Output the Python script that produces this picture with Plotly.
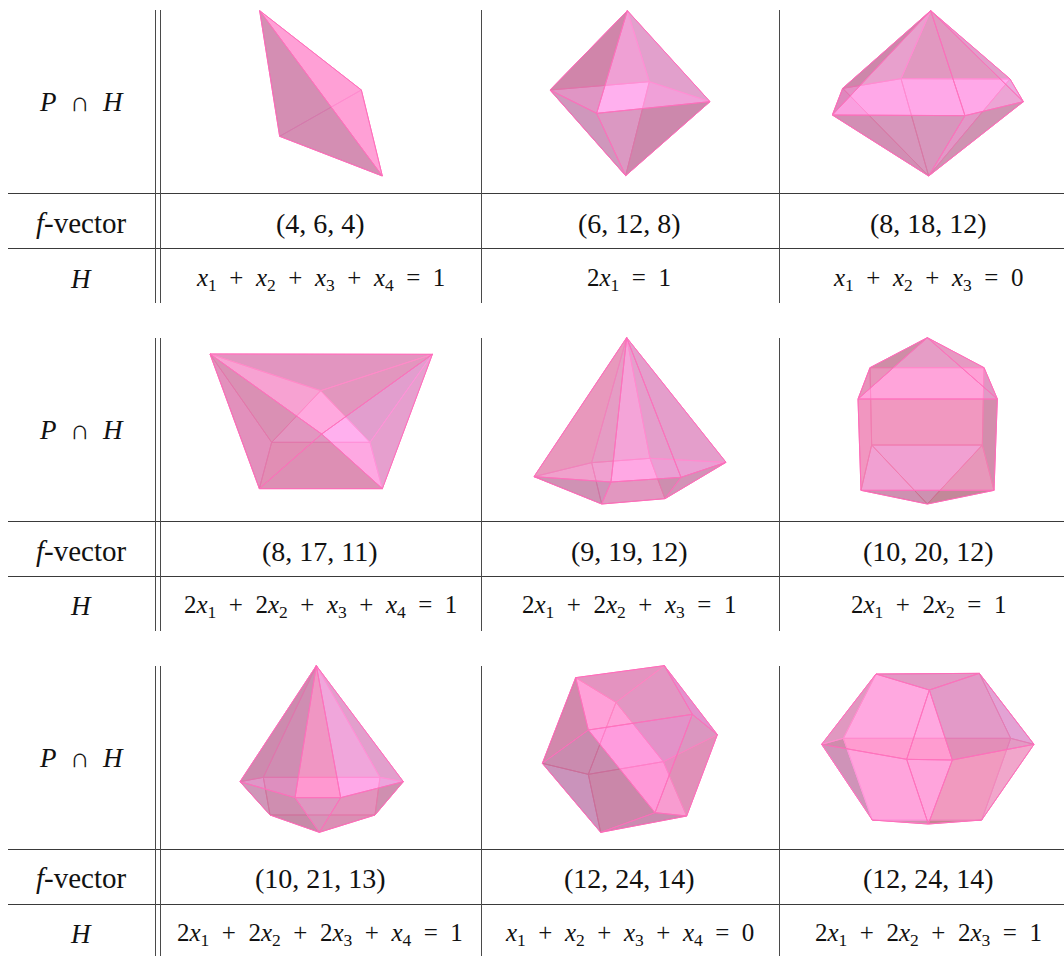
import plotly.graph_objects as go

# ---------- table text ----------
ROW_LABELS = ["<i>P</i>\u2002∩\u2002<i>H</i>", "<i>f</i>-vector", "<i>H</i>"]
F_VECTORS = [
    ["(4, 6, 4)", "(6, 12, 8)", "(8, 18, 12)"],
    ["(8, 17, 11)", "(9, 19, 12)", "(10, 20, 12)"],
    ["(10, 21, 13)", "(12, 24, 14)", "(12, 24, 14)"],
]
X1, X2, X3, X4 = ["<i>x</i><sub>%d</sub>" % k for k in (1, 2, 3, 4)]
PLUS = "\u2002+\u2002"
EQ = "\u2002=\u2002"
HYPERPLANES = [
    [f"{X1}{PLUS}{X2}{PLUS}{X3}{PLUS}{X4}{EQ}1", f"2{X1}{EQ}1", f"{X1}{PLUS}{X2}{PLUS}{X3}{EQ}0"],
    [f"2{X1}{PLUS}2{X2}{PLUS}{X3}{PLUS}{X4}{EQ}1", f"2{X1}{PLUS}2{X2}{PLUS}{X3}{EQ}1", f"2{X1}{PLUS}2{X2}{EQ}1"],
    [f"2{X1}{PLUS}2{X2}{PLUS}2{X3}{PLUS}{X4}{EQ}1", f"{X1}{PLUS}{X2}{PLUS}{X3}{PLUS}{X4}{EQ}0", f"2{X1}{PLUS}2{X2}{PLUS}2{X3}{EQ}1"],
]

# ---------- polytopes: vertices, faces, face tints ----------
ORIGIN_1 = (240, 0)
VERTS_1 = {"A": (59, 32), "B": (364, 270), "C": (427, 528), "D": (119, 409)}
BACK_1 = {"ABD": (255, 150, 200), "BCD": (255, 150, 200)}
FRONT_1 = {"ABC": (255, 170, 228), "ACD": (170, 134, 158)}

ORIGIN_2 = (530, 0)
VERTS_2 = {"T": (292, 32), "L": (60, 270), "R": (540, 305), "B": (287, 527), "F": (200, 340), "K": (358, 245)}
BACK_2 = {"BLK": (255, 176, 238), "BKR": (225, 144, 194), "TLK": (223, 144, 186), "TKR": (197, 144, 170)}
FRONT_2 = {"TFR": (255, 176, 238), "TLF": (193, 122, 154), "BLF": (160, 126, 138), "BFR": (183, 128, 150)}

ORIGIN_3 = (820, 0)
VERTS_3 = {"T": (332, 32), "B": (326, 528), "L": (37, 345), "M": (68, 265), "N": (243, 236),
           "Q": (570, 237), "R": (610, 305), "S": (435, 347)}
BACK_3 = {"TMN": (209, 152, 178), "TNQ": (195, 136, 152), "BLM": (245, 152, 216), "BMN": (255, 168, 232),
          "BNQ": (255, 168, 232), "BQR": (217, 160, 192)}
FRONT_3 = {"TLM": (201, 118, 162), "TLS": (255, 168, 232), "TSR": (255, 168, 232), "TRQ": (255, 180, 250),
           "BLS": (175, 132, 144), "BSR": (197, 134, 164)}

ORIGIN_4 = (200, 340)
VERTS_4 = {"K": (30, 42), "W": (697, 43), "I": (178, 446), "J": (547, 446), "M": (362, 152),
           "A": (215, 307), "C": (510, 307), "E": (365, 282)}
BACK_4 = {"KWM": (197, 132, 170), "WMC": (197, 134, 166), "MAC": (255, 170, 230), "KMA": (239, 158, 206),
          "WCJ": (205, 136, 166), "CAIJ": (253, 154, 206), "KAI": (255, 158, 222)}
FRONT_4 = {"KIE": (197, 130, 154), "KWE": (255, 166, 214), "WJE": (255, 182, 246), "IJE": (190, 132, 154)}

ORIGIN_5 = (525, 335)
VERTS_5 = {"T": (305, 8), "L": (27, 425), "P": (200, 383), "O": (375, 370), "R": (603, 382),
           "Q": (468, 427), "S": (258, 441), "B": (230, 507), "C": (420, 491)}
BACK_5 = {"TLP": (239, 152, 188), "TPO": (233, 160, 204), "TOR": (200, 148, 178), "LPB": (255, 168, 220),
          "POCB": (255, 168, 228), "ORC": (213, 150, 194)}
FRONT_5 = {"TLS": (225, 152, 188), "TSQ": (255, 168, 228), "TQR": (255, 168, 228), "LSB": (160, 124, 140),
           "SQCB": (197, 134, 156), "QRC": (210, 142, 172)}

ORIGIN_6 = (840, 335)
VERTS_6 = {"T": (262, 8), "B": (262, 507), "U": (90, 98), "V": (432, 98), "L": (54, 192), "R": (472, 192),
           "M": (95, 330), "N": (427, 330), "F": (63, 466), "G": (462, 466)}
BACK_6 = {"TUV": (205, 150, 178), "UVNM": (255, 164, 218), "ULFM": (255, 160, 218), "VRGN": (195, 142, 178),
          "MNB": (255, 180, 255), "MFB": (255, 180, 255), "NGB": (235, 162, 206)}
FRONT_6 = {"TLR": (255, 164, 218), "TUL": (207, 132, 154), "TRV": (255, 156, 210), "LRGF": (228, 140, 166),
           "FGB": (155, 110, 100)}

ORIGIN_7 = (230, 660)
VERTS_7 = {"T": (259, 17), "L": (30, 365), "R": (520, 365), "A": (100, 352), "C": (450, 352), "F": (195, 413),
           "E": (332, 413), "G": (120, 465), "H": (435, 465), "B": (268, 517)}
BACK_7 = {"TLA": (221, 150, 190), "TAC": (225, 156, 198), "TCR": (197, 142, 168), "LAG": (255, 176, 240),
          "ACHG": (255, 160, 224), "CRH": (217, 152, 200), "GHB": (239, 152, 208)}
FRONT_7 = {"TLF": (190, 126, 158), "TFE": (255, 144, 192), "TER": (255, 176, 240), "LFBG": (160, 124, 128),
           "FEB": (190, 142, 160), "ERHB": (197, 134, 152)}

ORIGIN_8 = (535, 660)
VERTS_8 = {"a": (122, 53), "b": (388, 17), "c": (547, 224), "d": (455, 468), "e": (197, 517), "f": (22, 310),
           "g": (243, 127), "h": (472, 163), "i": (160, 210), "j": (385, 305), "k": (160, 343), "l": (360, 458)}
BACK_8 = {"abg": (201, 142, 182), "bcjg": (197, 148, 186), "cdj": (207, 136, 170), "dekj": (255, 160, 218),
          "efk": (255, 184, 254), "fagk": (255, 168, 230), "gjk": (255, 168, 230)}
FRONT_8 = {"abhi": (255, 152, 202), "bch": (255, 144, 222), "cdlh": (241, 152, 198), "del": (150, 118, 134),
           "efil": (150, 110, 120), "fai": (165, 104, 114), "ihl": (255, 144, 214)}

ORIGIN_9 = (815, 665)
VERTS_9 = {"a": (183, 27), "b": (493, 25), "c": (657, 238), "d": (500, 465), "m": (340, 477), "e": (172, 465),
           "f": (20, 238), "g": (343, 75), "h": (85, 220), "i": (587, 220), "j": (275, 283), "k": (412, 285)}
BACK_9 = {"abih": (255, 168, 224), "bci": (255, 184, 248), "afh": (193, 136, 160), "fhe": (158, 110, 120),
          "hide": (255, 144, 192), "cid": (255, 168, 216), "edm": (165, 104, 100)}
FRONT_9 = {"abg": (197, 136, 168), "agjf": (255, 168, 224), "gjk": (255, 168, 224), "gkcb": (200, 140, 176),
           "fjme": (255, 184, 248), "jkm": (255, 184, 248), "kcdm": (228, 164, 190)}

POLYTOPES = [
    (ORIGIN_1, VERTS_1, BACK_1, FRONT_1), (ORIGIN_2, VERTS_2, BACK_2, FRONT_2), (ORIGIN_3, VERTS_3, BACK_3, FRONT_3),
    (ORIGIN_4, VERTS_4, BACK_4, FRONT_4), (ORIGIN_5, VERTS_5, BACK_5, FRONT_5), (ORIGIN_6, VERTS_6, BACK_6, FRONT_6),
    (ORIGIN_7, VERTS_7, BACK_7, FRONT_7), (ORIGIN_8, VERTS_8, BACK_8, FRONT_8), (ORIGIN_9, VERTS_9, BACK_9, FRONT_9),
]

# ---------- table geometry ----------
BLOCK_TOP = [10, 338, 666]
BLOCK_BOTTOM = [303, 631, 957]
RULE_1 = [193.5, 521.5, 849.5]
RULE_2 = [248.5, 576.5, 904.5]
COL_DOUBLE = [155.5, 160.5]
COL_SEP = [481.5, 779.5]
LABEL_X = 81
COL_X = [320, 629, 928]
ROW_Y = [[102, 223, 279], [430, 551, 606], [758, 878, 934]]
LABEL_SIZES = [27, 29, 27]

LINE = "#ff6ebb"
ZOOM = 3.0
fig = go.Figure()


def face_xy(origin, verts, face):
    pts = [verts[c] for c in face] + [verts[face[0]]]
    return [origin[0] + p[0] / ZOOM for p in pts], [origin[1] + p[1] / ZOOM for p in pts]


def add_layer(origin, verts, faces, alpha, line_opacity):
    for face, rgb in faces.items():
        x, y = face_xy(origin, verts, face)
        fig.add_trace(go.Scatter(x=x, y=y, mode="lines", fill="toself", line=dict(width=0),
                                 fillcolor="rgba(%d,%d,%d,%.2f)" % (*rgb, alpha), hoverinfo="skip", showlegend=False))
    ex, ey = [], []
    for face in faces:
        x, y = face_xy(origin, verts, face)
        ex += x + [None]
        ey += y + [None]
    fig.add_trace(go.Scatter(x=ex, y=ey, mode="lines", line=dict(color=LINE, width=1), opacity=line_opacity,
                             hoverinfo="skip", showlegend=False))


for origin, verts, back, front in POLYTOPES:
    add_layer(origin, verts, back, 1.0, 1.0)
    add_layer(origin, verts, front, 0.5, 0.9)

# table rules
hx, hy = [], []
for y in RULE_1 + RULE_2:
    hx += [8, 1064, None]
    hy += [y, y, None]
fig.add_trace(go.Scatter(x=hx, y=hy, mode="lines", line=dict(color="#3a3a3a", width=1), hoverinfo="skip", showlegend=False))
vx, vy = [], []
for top, bottom in zip(BLOCK_TOP, BLOCK_BOTTOM):
    for x in COL_DOUBLE + COL_SEP:
        vx += [x, x, None]
        vy += [top, bottom, None]
fig.add_trace(go.Scatter(x=vx, y=vy, mode="lines", line=dict(color="#4a4a4a", width=1), hoverinfo="skip", showlegend=False))

SERIF = "'Liberation Serif', 'DejaVu Serif', serif"
def text(x, y, s, size):
    fig.add_annotation(x=x, y=y, xref="x", yref="y", text=s, showarrow=False, xanchor="center", yanchor="middle",
                       font=dict(family=SERIF, size=size, color="#111111"))

for b in range(3):
    for r, label in enumerate(ROW_LABELS):
        text(LABEL_X, ROW_Y[b][r], label, LABEL_SIZES[r])
    for c in range(3):
        text(COL_X[c], ROW_Y[b][1], F_VECTORS[b][c], 28)
        text(COL_X[c], ROW_Y[b][2], HYPERPLANES[b][c], 25)

fig.update_layout(width=1064, height=956, margin=dict(l=0, r=0, t=0, b=0), paper_bgcolor="white", plot_bgcolor="white",
                  showlegend=False, font=dict(family=SERIF),
                  xaxis=dict(range=[0, 1064], visible=False, fixedrange=True),
                  yaxis=dict(range=[956, 0], visible=False, fixedrange=True))
fig.write_html("out.html", config=dict(displayModeBar=False),
               post_script="document.body.style.margin='0';document.documentElement.style.overflow='hidden';")
